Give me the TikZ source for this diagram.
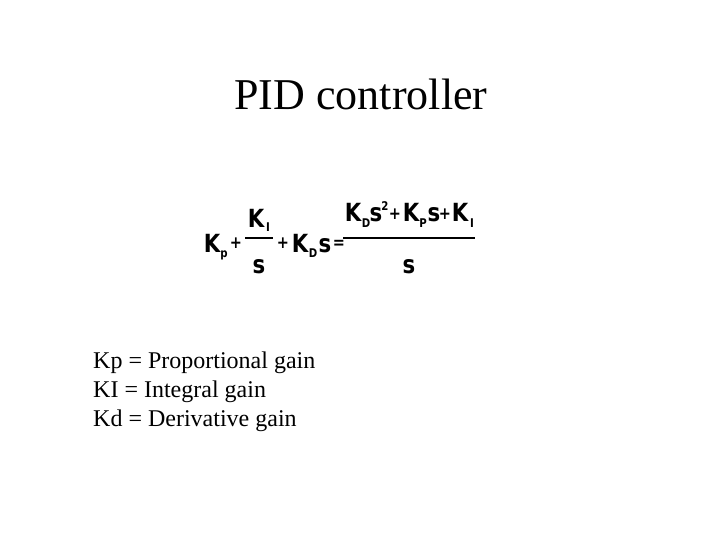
\documentclass[tikz,border=0pt]{standalone}
\usepackage{fontspec}
\setmainfont{Liberation Serif}
\newfontfamily\eqf{DejaVu Sans}[FakeStretch=0.85]
\begin{document}
\begin{tikzpicture}[x=1pt,y=-1pt,
  body/.style={anchor=base west,font=\fontsize{24}{28}\selectfont,inner sep=0},
  eq/.style={font=\eqf\bfseries\fontsize{25}{28}\selectfont,inner sep=0,anchor=base},
  pm/.style={font=\eqf\bfseries\fontsize{17}{20}\selectfont,inner sep=0,anchor=base},
  sub/.style={font=\eqf\bfseries\fontsize{12}{14}\selectfont,inner sep=0,anchor=base}]
\useasboundingbox (0,0) rectangle (720,540);
\node[anchor=base,inner sep=0,font=\fontsize{44}{48}\selectfont] (title) at (361,110) {PID controller};
% equation
\node[eq] (k1) at (212,252) {K};
\node[sub] (p1) at (224,257) {p};
\node[pm] (pl1) at (236,248) {+};
\node[eq] (k2) at (256,227) {K};
\node[sub] (i2) at (268,232) {I};
\draw[line width=2] (245,238) -- (273,238);
\node[eq] (s1) at (259,273) {s};
\node[pm] (pl2) at (283,248) {+};
\node[eq] (k3) at (300,252) {K};
\node[sub] (d3) at (313,257) {D};
\node[eq] (s3) at (325,252) {s};
\node[pm] (eqs) at (339,248) {=};
\node[eq] (k4) at (353,222) {K};
\node[sub] (d4) at (366,227) {D};
\node[eq] (s4) at (376,222) {s};
\node[sub] (sq) at (385,211) {2};
\node[pm] (pl3) at (395,219) {+};
\node[eq] (k5) at (411,222) {K};
\node[sub] (p5) at (423,227) {P};
\node[eq] (s5) at (434,222) {s};
\node[pm] (pl4) at (445,219) {+};
\node[eq] (k6) at (460,222) {K};
\node[sub] (i6) at (472,227) {I};
\draw[line width=2] (343,238) -- (475,238);
\node[eq] (s6) at (409,273) {s};
% text
\node[body] (l1) at (93,368) {Kp = Proportional gain};
\node[body] (l2) at (93,397) {KI = Integral gain};
\node[body] (l3) at (93,426) {Kd = Derivative gain};
\end{tikzpicture}
\end{document}
